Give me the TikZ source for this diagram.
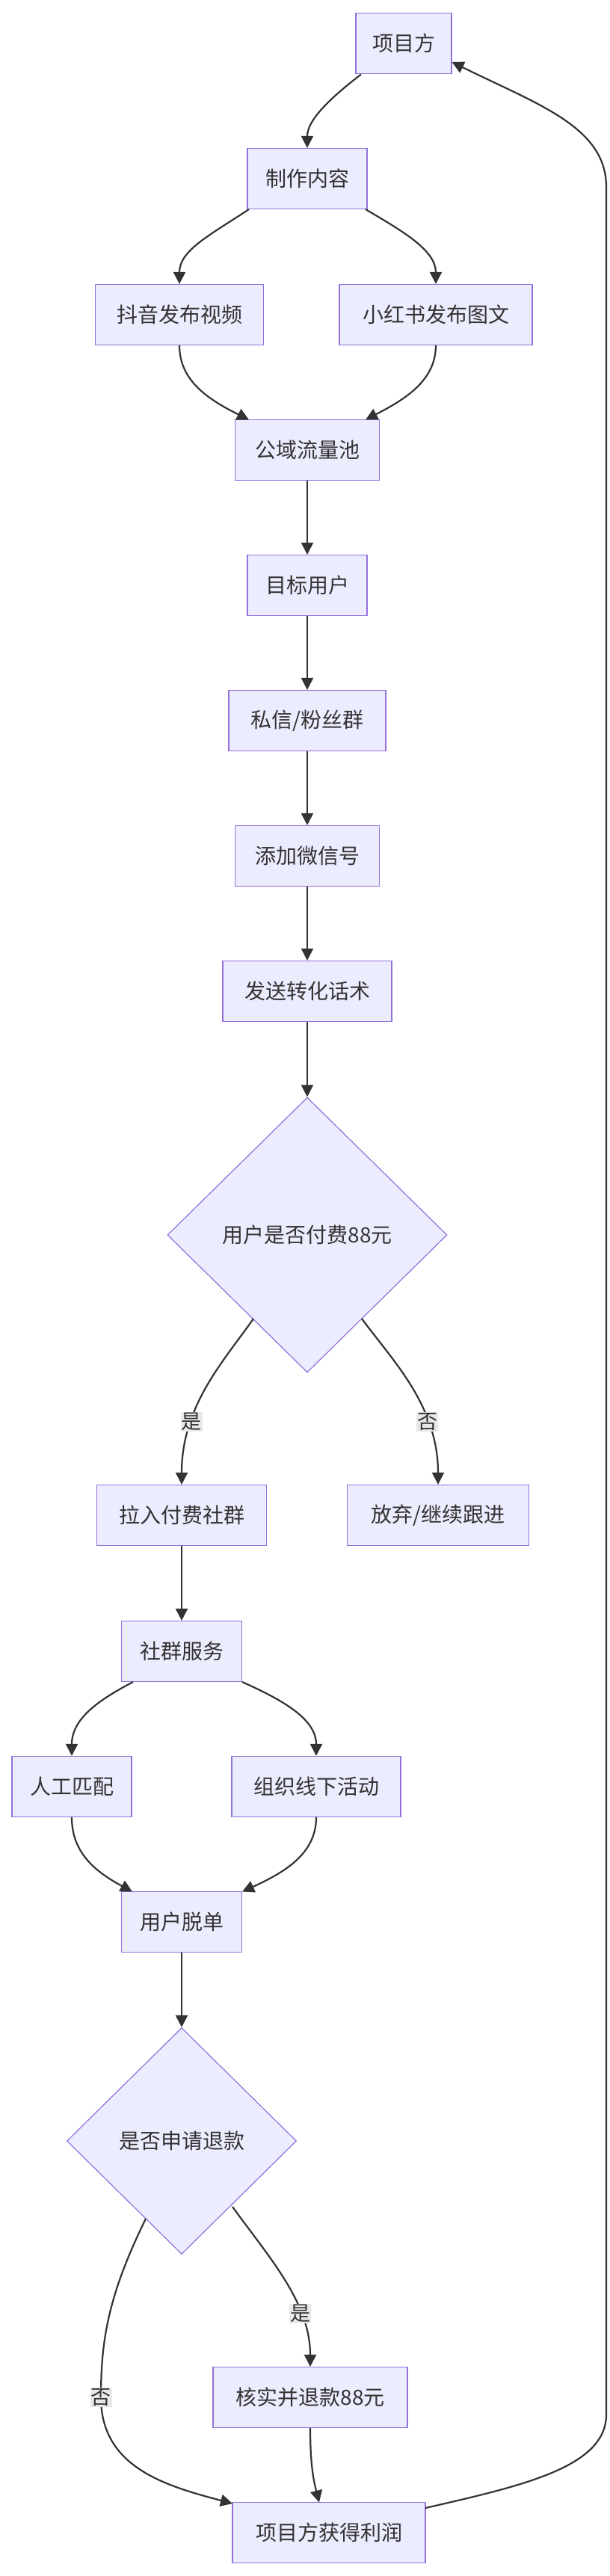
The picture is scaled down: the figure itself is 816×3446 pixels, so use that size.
\documentclass[tikz,border=0pt]{standalone}
\usepackage{fontspec}
\setmainfont{Noto Sans CJK SC}
\usetikzlibrary{shapes.geometric,arrows.meta}
\definecolor{nfill}{HTML}{ECECFF}
\definecolor{nline}{HTML}{9370DB}
\definecolor{eline}{HTML}{333333}
\definecolor{lbg}{HTML}{E8E8E8}
\begin{document}
\begin{tikzpicture}[x=1pt,y=-1pt,
 box/.style={draw=nline,fill=nfill,line width=1.2pt,inner sep=0pt,minimum height=81pt,font=\fontsize{28}{30}\selectfont,text=eline},
 dia/.style={box,shape=diamond,aspect=1,minimum height=368pt},
 e/.style={draw=eline,line width=2.2pt,-{Triangle[length=16pt,width=16pt]}},
 lab/.style={fill=lbg,inner sep=1pt,font=\fontsize{27}{29}\selectfont,text=eline}]
\useasboundingbox (0,0) rectangle (816,3446);
\node[box,minimum width=128pt] (A) at (540,58) {项目方};
\node[box,minimum width=160pt] (B) at (411,239) {制作内容};
\node[box,minimum width=225pt] (C) at (240,421) {抖音发布视频};
\node[box,minimum width=258pt] (D) at (583,421) {小红书发布图文};
\node[box,minimum width=193pt] (E) at (411,602) {公域流量池};
\node[box,minimum width=160pt] (F) at (411,783) {目标用户};
\node[box,minimum width=210pt] (G) at (411,964) {私信/粉丝群};
\node[box,minimum width=193pt] (H) at (411,1145) {添加微信号};
\node[box,minimum width=226pt] (I) at (411,1326) {发送转化话术};
\node[dia,minimum width=374pt] (J) at (411,1652) {用户是否付费88元};
\node[box,minimum width=227pt] (K) at (243,2027) {拉入付费社群};
\node[box,minimum width=243pt] (L) at (586,2027) {放弃/继续跟进};
\node[box,minimum width=161pt] (M) at (243,2209) {社群服务};
\node[box,minimum width=160pt] (N) at (96,2390) {人工匹配};
\node[box,minimum width=226pt] (O) at (423,2390) {组织线下活动};
\node[box,minimum width=161pt] (P) at (243,2571) {用户脱单};
\node[dia,minimum width=307pt,minimum height=303pt] (Q) at (243,2864) {是否申请退款};
\node[box,minimum width=260pt] (R) at (415,3207) {核实并退款88元};
\node[box,minimum width=258pt] (S) at (440,3388) {项目方获得利润};
\draw[e] (483,99.5) .. controls (430,140) and (411,165) .. (B.north);
\draw[e] (333,280) .. controls (280,315) and (240,335) .. (C.north);
\draw[e] (489,280) .. controls (540,310) and (583,335) .. (D.north);
\draw[e] (C.south) .. controls (240,510) and (280,535) .. (333,561.5);
\draw[e] (D.south) .. controls (583,510) and (540,535) .. (489,561.5);
\draw[e] (E) -- (F);
\draw[e] (F) -- (G);
\draw[e] (G) -- (H);
\draw[e] (H) -- (I);
\draw[e] (I) -- (J);
\draw[e] (339,1764) .. controls (300,1820) and (243,1880) .. (K.north) node[lab,pos=0.7] {是};
\draw[e] (484,1764) .. controls (525,1820) and (586,1880) .. (L.north) node[lab,pos=0.7] {否};
\draw[e] (K) -- (M);
\draw[e] (178,2250) .. controls (130,2275) and (96,2300) .. (N.north);
\draw[e] (324,2250) .. controls (380,2275) and (423,2300) .. (O.north);
\draw[e] (N.south) .. controls (96,2480) and (130,2505) .. (177,2530.5);
\draw[e] (O.south) .. controls (423,2480) and (380,2505) .. (324,2530.5);
\draw[e] (P) -- (Q);
\draw[e] (311,2952) .. controls (360,3020) and (415,3080) .. (R.north) node[lab,pos=0.7] {是};
\draw[e] (195,2968) .. controls (145,3070) and (135,3130) .. (135,3207) node[lab] {否} .. controls (135,3300) and (220,3325) .. (311,3349);
\draw[e] (R.south) .. controls (415,3300) and (420,3320) .. (427,3347.5);
\draw[e] (569,3355) .. controls (700,3325) and (811,3300) .. (811,3230) -- (811,250) .. controls (811,170) and (720,140) .. (604.5,83);
\end{tikzpicture}
\end{document}
